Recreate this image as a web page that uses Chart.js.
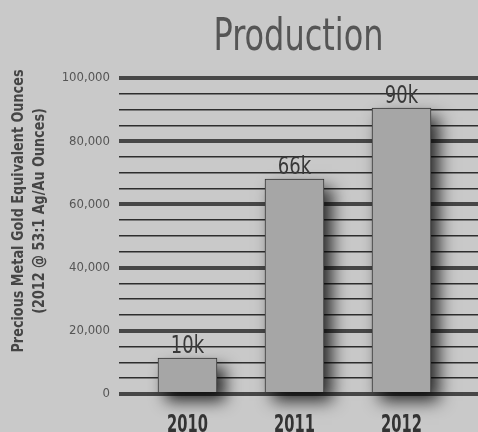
<!DOCTYPE html>
<html>
<head>
<meta charset="utf-8">
<script src="https://cdn.jsdelivr.net/npm/chart.js@4/dist/chart.umd.min.js"></script>
<style>
  html, body { margin: 0; padding: 0; background: #c9c9c9; }
  #wrap { width: 478px; height: 432px; }
</style>
</head>
<body>
<div id="wrap"><canvas id="production"></canvas></div>
<script>
// values
const years = ['2010', '2011', '2012'];
const ounces = [11400, 68000, 90500];
const barLabels = ['10k', '66k', '90k'];
const titleText = 'Production';
const axisTitle = ['Precious Metal Gold Equivalent Ounces', '(2012 @ 53:1 Ag/Au Ounces)'];

const narrow = "'DejaVu Sans Condensed', 'DejaVu Sans', sans-serif";

// condensed text: squeeze along the baseline
function squeezed(ctx, text, x, y, sx) {
    ctx.save();
    ctx.translate(x, y);
    ctx.scale(sx, 1);
    ctx.fillText(text, 0, 0);
    ctx.restore();
}

// soft drop shadow under each bar (bar element clips its own shadow, so paint it first)
const shadowPlugin = {
    id: 'shadow',
    beforeDatasetsDraw(chart) {
        const ctx = chart.ctx;
        ctx.save();
        ctx.shadowColor = 'rgba(0,0,0,0.8)';
        ctx.shadowBlur = 16;
        ctx.shadowOffsetX = 8;
        ctx.shadowOffsetY = 9;
        ctx.fillStyle = '#a6a6a6';
        chart.getDatasetMeta(0).data.forEach((bar) => {
            ctx.fillRect(bar.x - bar.width / 2, bar.y, bar.width, bar.base - bar.y);
        });
        ctx.restore();
    }
};

// title, rotated axis title, year labels and labels above the bars
const textPlugin = {
    id: 'texts',
    afterDraw(chart) {
        const ctx = chart.ctx;
        const area = chart.chartArea;
        const xs = chart.scales.x;
        ctx.save();
        ctx.textAlign = 'center';
        ctx.textBaseline = 'alphabetic';

        ctx.fillStyle = '#555';
        ctx.font = '45px ' + narrow;
        squeezed(ctx, titleText, (area.left + area.right) / 2, 50, 0.79);

        ctx.fillStyle = '#383838';
        ctx.font = '25px ' + narrow;
        chart.getDatasetMeta(0).data.forEach((bar, i) => {
            squeezed(ctx, barLabels[i], bar.x, bar.y - 5, 0.8);
        });

        ctx.fillStyle = '#333';
        ctx.font = 'bold 24px ' + narrow;
        years.forEach((y, i) => {
            squeezed(ctx, y, xs.getPixelForValue(i), 432, 0.68);
        });

        ctx.fillStyle = '#454545';
        ctx.font = 'bold 16px ' + narrow;
        ctx.translate(0, 211);
        ctx.rotate(-Math.PI / 2);
        ctx.textBaseline = 'middle';
        squeezed(ctx, axisTitle[0], 0, 19, 0.89);
        squeezed(ctx, axisTitle[1], 0, 40, 0.89);
        ctx.restore();
    }
};

const ctx = document.getElementById('production');

new Chart(ctx, {
    type: 'bar',
    data: {
        datasets: [{
            data: ounces.map((v, i) => ({ x: i, y: v })),
            backgroundColor: '#a6a6a6',
            borderColor: '#333',
            borderWidth: 1,
            barThickness: 59
        }]
    },
    options: {
        responsive: true,
        maintainAspectRatio: false,
        animation: false,
        layout: { padding: { top: 78, left: 0, right: 0, bottom: 0 } },
        plugins: {
            legend: { display: false },
            tooltip: { enabled: false }
        },
        scales: {
            x: {
                type: 'linear',
                offset: false,
                min: -0.64,
                max: 2.715,
                grid: { display: false },
                border: { display: false },
                afterBuildTicks(scale) {
                    scale.ticks = years.map((_, i) => ({ value: i }));
                },
                afterFit(scale) { scale.height = 38; },
                ticks: { display: false }
            },
            y: {
                min: 0,
                max: 100000,
                border: { display: false },
                afterFit(scale) { scale.width = 119; },
                grid: {
                    drawTicks: false,
                    color: (c) => c.tick.value % 20000 === 0 ? '#474747' : '#2e2e2e',
                    lineWidth: (c) => c.tick.value % 20000 === 0 ? 4 : 1.5
                },
                ticks: {
                    stepSize: 5000,
                    autoSkip: false,
                    padding: 9,
                    color: '#555',
                    font: { family: narrow, size: 13 },
                    callback: (v) => v % 20000 === 0 ? v.toLocaleString('en-US') : ''
                }
            }
        }
    },
    plugins: [shadowPlugin, textPlugin]
});
</script>
</body>
</html>
